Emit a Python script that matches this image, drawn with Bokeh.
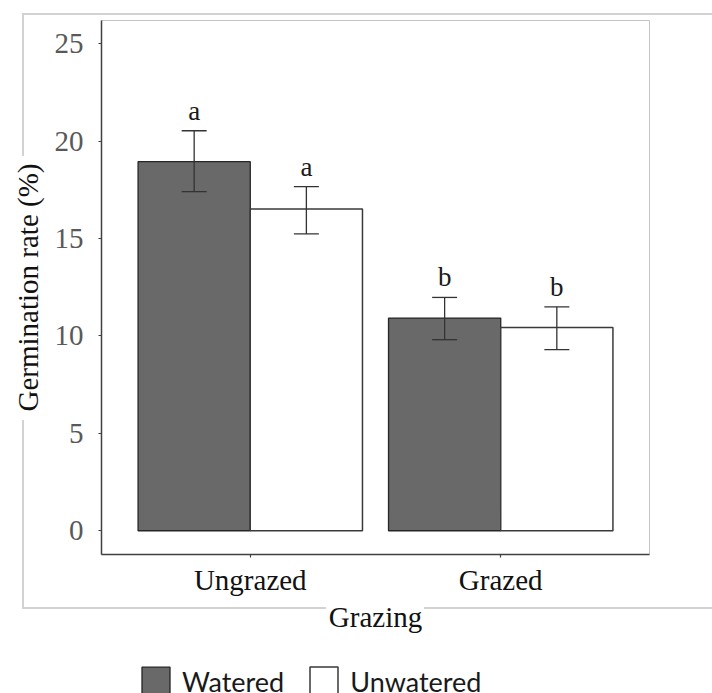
from bokeh.plotting import figure
from bokeh.layouts import column
from bokeh.models import (FactorRange, Range1d, ColumnDataSource, Whisker, TeeHead,
                          Legend, LegendItem, FixedTicker, InlineStyleSheet)
from bokeh.transform import dodge
from bokeh.core.properties import value
from bokeh.embed import file_html
from bokeh.resources import INLINE

# ---- data ----
grazing = ["Ungrazed", "Grazed"]
watered_mean = [18.95, 10.92]
watered_lower = [17.41, 9.81]
watered_upper = [20.54, 11.98]
unwatered_mean = [16.52, 10.43]
unwatered_lower = [15.24, 9.30]
unwatered_upper = [17.67, 11.50]
watered_letters = ["a", "b"]
unwatered_letters = ["a", "b"]
y_ticks = [0, 5, 10, 15, 20, 25]
series_names = ["Watered", "Unwatered"]

src_w = ColumnDataSource(dict(grazing=grazing, mean=watered_mean, lower=watered_lower,
                              upper=watered_upper, letter=watered_letters))
src_u = ColumnDataSource(dict(grazing=grazing, mean=unwatered_mean, lower=unwatered_lower,
                              upper=unwatered_upper, letter=unwatered_letters))

SERIF = "Liberation Serif"
BAR_W = 0.448
OFF = 0.224
W_STYLE = dict(fill_color="#696969", line_color="#262626", line_width=1.3)
U_STYLE = dict(fill_color="white", line_color="#3a3a3a", line_width=1.5)

p = figure(x_range=FactorRange(factors=grazing, range_padding=0.094, range_padding_units="absolute"),
           y_range=Range1d(-1.22, 26.2),
           frame_width=548, frame_height=534,
           min_border_left=101, min_border_right=63, min_border_top=20, min_border_bottom=96,
           output_backend="svg", toolbar_location=None,
           background_fill_color="white", border_fill_color="white")

p.vbar(x=dodge("grazing", -OFF, range=p.x_range), top="mean", bottom=0, width=BAR_W,
       source=src_w, **W_STYLE)
p.vbar(x=dodge("grazing", OFF, range=p.x_range), top="mean", bottom=0, width=BAR_W,
       source=src_u, **U_STYLE)

for src, off in ((src_w, -OFF), (src_u, OFF)):
    wh = Whisker(source=src, base=dodge("grazing", off, range=p.x_range),
                 upper="upper", lower="lower", line_color="#333333", line_width=1.3,
                 level="overlay",
                 upper_head=TeeHead(size=25, line_color="#333333", line_width=1.3),
                 lower_head=TeeHead(size=25, line_color="#333333", line_width=1.3))
    p.add_layout(wh)
    p.text(x=dodge("grazing", off, range=p.x_range), y="upper", text="letter", source=src,
           text_font=value(SERIF), text_font_size="27px", text_align="center",
           text_baseline="alphabetic", y_offset=-20, text_color="#1a1a1a")

# axes
p.xgrid.visible = False
p.ygrid.visible = False
p.outline_line_color = "#c4c4c4"
p.outline_line_width = 1

p.yaxis.ticker = FixedTicker(ticks=y_ticks)
p.yaxis.minor_tick_line_color = None
p.yaxis.major_tick_out = 3
p.yaxis.major_tick_in = 0
p.yaxis.major_label_standoff = 15
p.yaxis.major_label_text_font = SERIF
p.yaxis.major_label_text_font_size = "29px"
p.yaxis.major_label_text_color = "#595959"
p.yaxis.axis_label = "Germination rate (%)"
p.yaxis.axis_label_standoff = 8

p.xaxis.major_tick_out = 3
p.xaxis.major_tick_in = 0
p.xaxis.major_label_standoff = 6
p.xaxis.major_label_text_font = SERIF
p.xaxis.major_label_text_font_size = "29px"
p.xaxis.major_label_text_color = "#111111"
p.xaxis.axis_label = "Grazing"
p.xaxis.axis_label_standoff = 2

for ax in (p.xaxis[0], p.yaxis[0]):
    ax.axis_line_color = "#404040"
    ax.axis_line_width = 1.5
    ax.major_tick_line_color = "#404040"
    ax.major_tick_line_width = 1.2
    ax.axis_label_text_font = SERIF
    ax.axis_label_text_font_size = "29px"
    ax.axis_label_text_font_style = "normal"
    ax.axis_label_text_color = "#111111"

# outer light-grey chart frame (CSS overlay, with gaps behind the axis titles)
p.stylesheets = [InlineStyleSheet(css="""
:host { position: relative; }
:host::after {
  content: ''; position: absolute; left: 22px; top: 13px; z-index: 1;
  width: calc(100% - 22px); height: 596px; pointer-events: none;
  background:
    linear-gradient(#d2d2d2, #d2d2d2) 0 0 / 100% 2px no-repeat,
    linear-gradient(to right, #d2d2d2 0 304px, transparent 304px 402px, #d2d2d2 402px) 0 100% / 100% 2px no-repeat,
    linear-gradient(to bottom, #d2d2d2 0 143px, transparent 143px 407px, #d2d2d2 407px) 0 0 / 2px 100% no-repeat;
}
""")]

# legend strip below the chart (hidden renderers only feed the legend swatches)
pl = figure(width=712, height=43, x_range=FactorRange(factors=grazing), y_range=Range1d(100, 101),
            x_axis_location=None, y_axis_location=None, min_border=0,
            output_backend="svg", toolbar_location=None,
            background_fill_color=None, border_fill_color=None, outline_line_color=None)
pl.grid.visible = False
lw = pl.vbar(x=dodge("grazing", -OFF, range=pl.x_range), top="mean", bottom=0, width=BAR_W,
             source=src_w, visible=False, **W_STYLE)
lu = pl.vbar(x=dodge("grazing", OFF, range=pl.x_range), top="mean", bottom=0, width=BAR_W,
             source=src_u, visible=False, **U_STYLE)
legend = Legend(items=[LegendItem(label=series_names[0], renderers=[lw]),
                       LegendItem(label=series_names[1], renderers=[lu])],
                orientation="horizontal", location=(37, -6),
                glyph_width=35, glyph_height=36, label_standoff=9, spacing=22,
                padding=0, margin=0, border_line_alpha=0, background_fill_alpha=0,
                inactive_fill_alpha=0,
                label_text_font="Lato", label_text_font_size="27px",
                label_text_color="#1a1a1a")
pl.add_layout(legend)

layout = column(p, pl, spacing=0)
open("out.html", "w").write(file_html(layout, INLINE))
